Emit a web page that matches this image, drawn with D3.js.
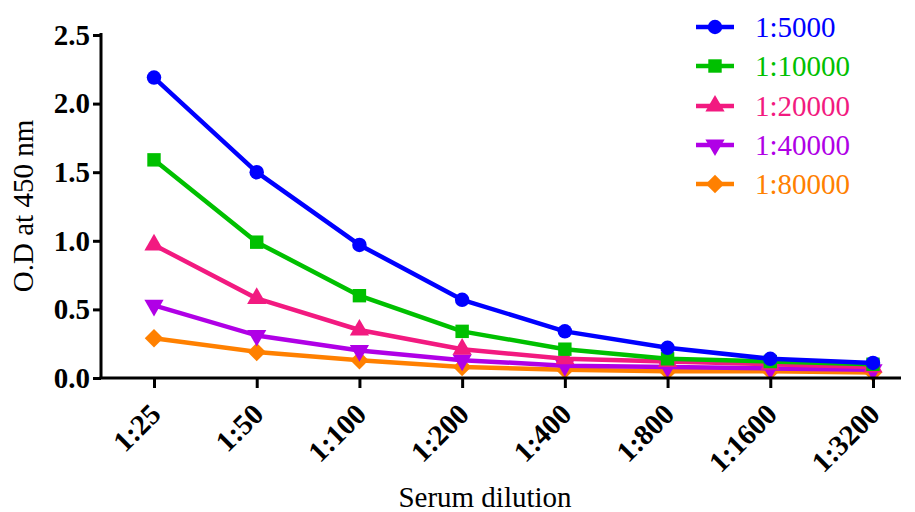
<!DOCTYPE html>
<html><head><meta charset="utf-8">
<script src="https://cdn.jsdelivr.net/npm/d3@7"></script>
<style>body{margin:0;background:#fff}svg{display:block}</style>
</head><body>
<svg id="c" width="915" height="512"></svg>
<script>
const categories = ["1:25","1:50","1:100","1:200","1:400","1:800","1:1600","1:3200"];
const seriesNames = ["1:5000","1:10000","1:20000","1:40000","1:80000"];
const s5000  = [2.19, 1.50, 0.97, 0.57, 0.34, 0.22, 0.14, 0.11];
const s10000 = [1.59, 0.99, 0.60, 0.34, 0.21, 0.14, 0.12, 0.10];
const s20000 = [0.97, 0.58, 0.35, 0.21, 0.14, 0.12, 0.10, 0.08];
const s40000 = [0.53, 0.31, 0.20, 0.13, 0.09, 0.08, 0.07, 0.06];
const s80000 = [0.29, 0.19, 0.13, 0.08, 0.06, 0.05, 0.05, 0.04];
const yTicks = [0.0, 0.5, 1.0, 1.5, 2.0, 2.5];
const colors = ["#0000FF","#00C000","#F21A80","#B000E6","#FF8000"];
const symbols = ["circle", "square", "up", "down", "diamond"];
const allSeries = [s5000, s10000, s20000, s40000, s80000];

const svg = d3.select("#c");
const font = "'Liberation Serif','Times New Roman',serif";
const x = d3.scalePoint().domain(categories).range([154, 873]);
const y = d3.scaleLinear().domain([0, 2.5]).range([378, 35]);

function marker(g, i, cx, cy) {
  const col = colors[i];
  const t = symbols[i];
  let d, rot = 0;
  if (t === "circle") d = d3.symbol().type(d3.symbolCircle).size(165)();
  else if (t === "square") d = d3.symbol().type(d3.symbolSquare).size(180)();
  else if (t === "up") d = d3.symbol().type(d3.symbolTriangle).size(160)();
  else if (t === "down") { d = d3.symbol().type(d3.symbolTriangle).size(160)(); rot = 180; }
  else { d = d3.symbol().type(d3.symbolSquare).size(170)(); rot = 45; }
  g.append("path").attr("d", d)
    .attr("transform", `translate(${cx},${cy}) rotate(${rot})`).attr("fill", col);
}

// series (draw last-first so blue on top)
const plot = svg.append("g");
for (let i = allSeries.length - 1; i >= 0; i--) {
  const data = allSeries[i];
  const line = d3.line().x((d, k) => x(categories[k])).y(d => y(d));
  plot.append("path").datum(data).attr("d", line).attr("fill", "none")
    .attr("stroke", colors[i]).attr("stroke-width", 4.5).attr("stroke-linejoin", "round");
  data.forEach((d, k) => marker(plot, i, x(categories[k]), y(d)));
}

// axes
const yAxis = svg.append("g").attr("transform", "translate(101,0)")
  .call(d3.axisLeft(y).tickValues(yTicks).tickFormat(d3.format(".1f")).tickSizeOuter(0).tickSize(8).tickPadding(3));
yAxis.select(".domain").attr("d", "M0,33V378").attr("stroke", "#000").attr("stroke-width", 3);
yAxis.selectAll(".tick line").attr("stroke", "#000").attr("stroke-width", 3);
yAxis.selectAll(".tick text").attr("font-family", font).attr("font-weight", "bold")
  .attr("font-size", 29).attr("fill", "#000");

const xAxis = svg.append("g").attr("transform", "translate(0,378)")
  .call(d3.axisBottom(x).tickSizeOuter(0).tickSize(10));
xAxis.select(".domain").attr("d", "M99.5,0H901").attr("stroke", "#000").attr("stroke-width", 3);
xAxis.selectAll(".tick line").attr("stroke", "#000").attr("stroke-width", 3);
xAxis.selectAll(".tick text").attr("font-family", font).attr("font-weight", "bold")
  .attr("font-size", 29).attr("fill", "#000")
  .attr("text-anchor", "end").attr("dy", 0).attr("y", 0)
  .attr("transform", "translate(8,38) rotate(-45)");

// axis titles
svg.append("text").attr("x", 485).attr("y", 507).attr("text-anchor", "middle")
  .attr("font-family", font).attr("font-size", 29).attr("fill", "#000").text("Serum dilution");
svg.append("text").attr("transform", "translate(33,206) rotate(-90)").attr("text-anchor", "middle")
  .attr("font-family", font).attr("font-size", 29).attr("fill", "#000").text("O.D at 450 nm");

// legend
const legY = [27, 66, 106, 145, 184];
seriesNames.forEach((n, i) => {
  const g = svg.append("g");
  g.append("line").attr("x1", 696).attr("x2", 734).attr("y1", legY[i]).attr("y2", legY[i])
    .attr("stroke", colors[i]).attr("stroke-width", 4.5);
  marker(g, i, 715, legY[i]);
  g.append("text").attr("x", 755).attr("y", legY[i] + 10).attr("font-family", font)
    .attr("font-size", 29).attr("fill", colors[i]).text(n);
});
</script>
</body></html>
